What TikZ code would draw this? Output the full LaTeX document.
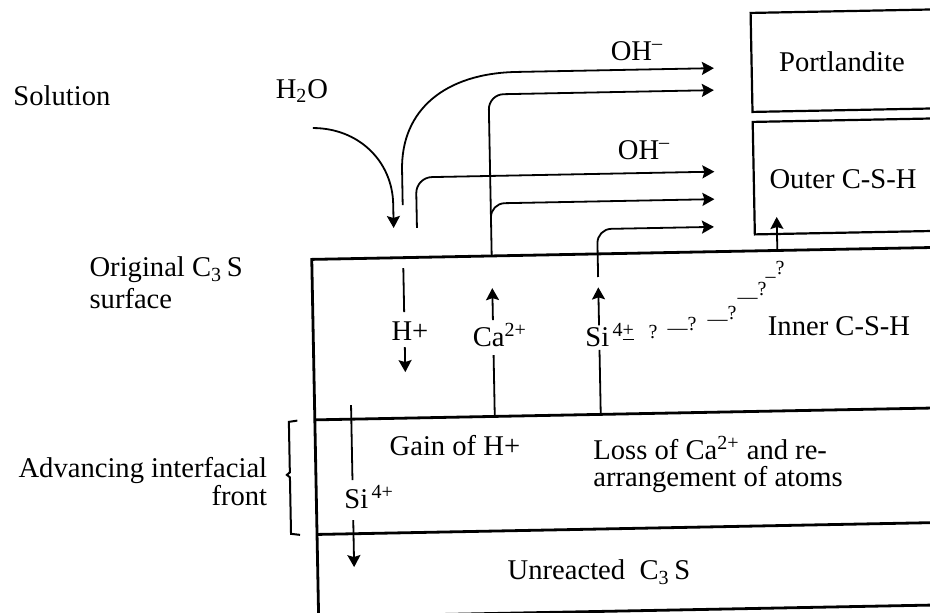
\documentclass[tikz,border=0pt]{standalone}
\usepackage{fontspec}
\setmainfont{Liberation Serif}
\usetikzlibrary{arrows.meta}
\begin{document}
\begin{tikzpicture}[x=0.5pt,y=-0.5pt,
  lbl/.style={font=\fontsize{14.3}{16}\selectfont, inner sep=1pt},
  qm/.style={font=\fontsize{10}{10}\selectfont, inner sep=0pt},
  flow/.style={line width=0.9pt, -{Stealth[length=6pt,width=6.5pt,inset=1pt]}},
  plain/.style={line width=0.9pt},
  layer/.style={line width=1.4pt},
  sbox/.style={line width=1.1pt}]
\useasboundingbox (0,0) rectangle (930,612);
\clip (0,0) rectangle (930,612);
\begin{scope}[rotate around={1.1:(620,400)}]
  % ---- main layered block ----
  \draw[layer] (1000,253.5) -- (314.5,253.5) -- (314.5,700);
  \draw[layer] (314.5,414) -- (1000,414);
  \draw[layer] (314.5,528.6) -- (1000,528.6);
  \draw[layer] (314.5,611) -- (1000,611);
  % ---- product boxes ----
  \draw[sbox] (1000,15.5) -- (758,15.5) -- (758,114.5) -- (1000,114.5);
  \draw[sbox] (1000,124.5) -- (758,124.5) -- (758,237) -- (1000,237);
  \node[lbl] (port) at (848.4,66.2) {Portlandite};
  \node[lbl] (outer) at (847.2,183.2) {Outer C-S-H};
  % ---- left labels ----
  \node[lbl] (sol) at (67.8,85.4) {Solution};
  \node[lbl, anchor=west, align=left, font=\fontsize{14.3}{16}\selectfont] (orig) at (89.5,272.9) {Original C\textsubscript{3}\,S\\surface};
  \node[lbl, anchor=east, align=right, font=\fontsize{14.3}{13}\selectfont] (adv) at (268,474.8) {Advancing interfacial\\front};
  \draw[line width=1pt] (297,414.4) -- (288.5,415.5) -- (288.5,466) -- (285.5,468.5) -- (288.5,471) -- (288.5,527.5) -- (297.5,528.7);
  % ---- solution-side labels ----
  \node[lbl] (h2o) at (307.9,85) {H\textsubscript{2}O};
  \node[lbl] (oh1) at (643.6,51.3) {OH\textsuperscript{--}};
  \node[lbl] (oh2) at (648.8,150.5) {OH\textsuperscript{--}};
  % ---- water arrow ----
  \coordinate (w0) at (318.2,122.2);
  \coordinate (w1) at (397,223.7);
  \draw[flow] (w0) .. controls (363,123) and (397,156) .. (397,200) -- (w1);
  % ---- OH- (top) ----
  \coordinate (o1s) at (406.5,200.9);
  \coordinate (o1e) at (720.3,70);
  \draw[flow] (o1s) -- (406.5,166) .. controls (406.5,106) and (451,70) .. (523,70) -- (o1e);
  % ---- Ca to Portlandite ----
  \coordinate (ca0) at (494.5,253.5);
  \coordinate (ca1) at (719.8,92);
  \draw[flow, rounded corners=7.5pt] (ca0) |- (ca1);
  % ---- OH- (second) ----
  \coordinate (o2s) at (420.3,224.1);
  \coordinate (o2e) at (718.8,173.5);
  \draw[flow, rounded corners=8pt] (o2s) |- (o2e);
  % ---- Ca branch to outer ----
  \coordinate (b4s) at (494.5,223);
  \coordinate (b4e) at (718.3,201);
  \draw[flow, rounded corners=7pt] (b4s) |- (b4e);
  % ---- Si to outer ----
  \coordinate (s0) at (600.5,276.6);
  \coordinate (s1) at (717.3,228.7);
  \draw[flow, rounded corners=7pt] (s0) |- (s1);
  % ---- outer C-S-H feed ----
  \coordinate (oa0) at (780.2,253.5);
  \coordinate (oa1) at (780.2,220);
  \draw[flow] (oa0) -- (oa1);
  % ---- inner region ----
  \node[lbl] (hp) at (411.3,327) {H+};
  \coordinate (h0) at (405.9,264);
  \coordinate (h1) at (405.9,308);
  \coordinate (h2) at (405.9,343);
  \coordinate (h3) at (405.9,368);
  \draw[plain] (h0) -- (h1);
  \draw[flow] (h2) -- (h3);
  \node[lbl] (ca) at (501.2,332.7) {Ca\textsuperscript{2+}};
  \coordinate (c0) at (494.5,414);
  \coordinate (c1) at (494.5,352.7);
  \coordinate (c2) at (494.5,317.7);
  \coordinate (c3) at (494.5,285.7);
  \draw[plain] (c0) -- (c1);
  \draw[flow] (c2) -- (c3);
  \node[lbl, anchor=west] (si) at (584.2,334.3) {Si\textsuperscript{\,4\underline{+}}};
  \coordinate (sa0) at (600.5,414);
  \coordinate (sa1) at (600.5,349.6);
  \coordinate (sa2) at (600.5,325);
  \coordinate (sa3) at (600.5,287);
  \draw[plain] (sa0) -- (sa1);
  \draw[flow] (sa2) -- (sa3);
  \node[qm] (q1) at (654.3,332.6) {?};
  \node[qm] (q2) at (683.4,327.2) {—\raisebox{2pt}{?}};
  \node[qm] (q3) at (723.6,317.9) {—\raisebox{3pt}{?}};
  \node[qm] (q4) at (754,295.5) {—\raisebox{4pt}{?}};
  \node[qm] (q5) at (777.4,274.9) {–\raisebox{4pt}{?}};
  \node[lbl] (inner) at (840.4,330.2) {Inner C-S-H};
  % ---- interfacial front ----
  \node[lbl] (gain) at (454.1,441.9) {Gain of H+};
  \node[lbl, anchor=west, align=left, font=\fontsize{14.3}{13.5}\selectfont] (loss) at (589.8,464) {Loss of Ca\textsuperscript{2+} and re-\\arrangement of atoms};
  \node[lbl, anchor=west] (si2) at (340.2,491.7) {Si\textsuperscript{\,4+}};
  \coordinate (l0) at (351,400);
  \coordinate (l1) at (351,475);
  \coordinate (l2) at (351,515);
  \coordinate (l3) at (351,562);
  \draw[plain] (l0) -- (l1);
  \draw[flow] (l2) -- (l3);
  % ---- unreacted ----
  \node[lbl] (unr) at (595.7,571.6) {Unreacted\ \ C\textsubscript{3}\,S};
\end{scope}
\end{tikzpicture}
\end{document}
